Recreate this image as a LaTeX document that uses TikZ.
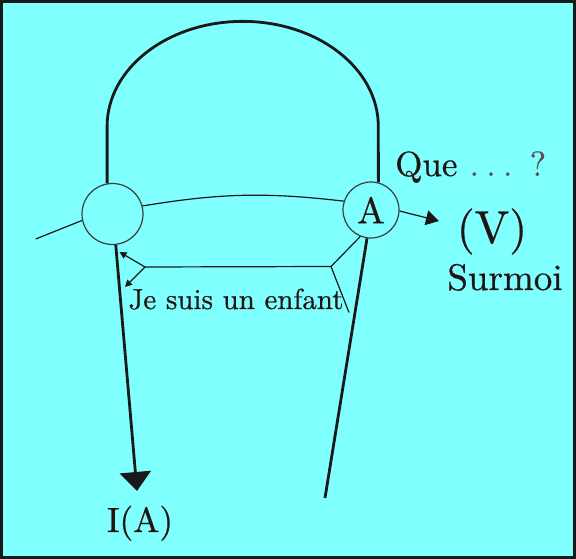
\documentclass[tikz,border=0pt]{standalone}
\usepackage{fontspec}
\setmainfont{lmroman10-regular.otf}[FakeBold=0.6]
\usetikzlibrary{arrows.meta}
\definecolor{bg}{RGB}{128,255,255}
\definecolor{ink}{RGB}{25,25,25}
\definecolor{txt}{RGB}{35,20,20}
\definecolor{dotgray}{RGB}{90,80,80}
\begin{document}
\begin{tikzpicture}[x=1pt,y=1pt,
  thickln/.style={draw=ink,line width=2.8pt},
  thinln/.style={draw=ink,line width=1.2pt},
  circ/.style={circle,draw=ink!85,line width=1.2pt,inner sep=0pt},
  lbl/.style={text=txt,inner sep=0pt},
  bigtri/.style={-{Triangle[length=19pt,width=31pt]}},
  midtri/.style={-{Triangle[length=13pt,width=15pt]}},
  smalltri/.style={-{Triangle[length=7pt,width=7pt]}}]
\useasboundingbox (0,0) rectangle (576,-559);
\fill[bg] (0,0) rectangle (576,-559);
\draw[ink,line width=3pt] (1.5,-1.5) rectangle (574.5,-557.5);
\node[circ,minimum size=61pt] (L) at (112.5,-214) {};
\node[circ,minimum size=56pt,text=txt] (A) at (371,-210) {\fontsize{37}{37}\selectfont A};
\coordinate (tail) at (35.7,-239);
\coordinate (rbot) at (325,-498);
\coordinate (ltip) at (137,-491);
\coordinate (J) at (331,-266.5);
\coordinate (K) at (145,-267);
\coordinate (up) at (119.5,-252);
\coordinate (dn) at (125,-287);
\coordinate (jend) at (349,-312.5);
\coordinate (vtip) at (439,-221);
\draw[thickln] (L.100) -- ++(0,57) arc[start angle=180,end angle=0,x radius=135.6pt,y radius=105pt] -- (A.75);
\draw[thinln] (L.15) to[bend left=8] (A.162);
\draw[thinln] (L.192) -- (tail);
\draw[thickln,bigtri] (L.276) -- (ltip);
\draw[thickln] (A.262) -- (rbot);
\draw[thinln] (A.248) -- (J) -- (K);
\draw[thinln,smalltri] (K) -- (up);
\draw[thinln,smalltri] (K) -- (dn);
\draw[thinln] (J) -- (jend);
\draw[thinln,midtri] (A.358) -- (vtip);
\node[lbl,anchor=base] (je) at (236,-309) {\fontsize{29}{30}\selectfont Je suis un enfant};
\node[lbl,anchor=base west] (que) at (395,-176) {\fontsize{35}{35}\selectfont Que\hspace{12pt}\textcolor{dotgray}{.\hspace{7pt}.\hspace{7pt}.\hspace{17pt}?}};
\node[lbl,anchor=base] (V) at (492,-243) {\fontsize{46}{46}\selectfont (V)};
\node[lbl,anchor=base] (S) at (505,-290) {\fontsize{37}{37}\selectfont Surmoi};
\node[lbl,anchor=base] (IA) at (140,-532) {\fontsize{35}{35}\selectfont I(A)};
\end{tikzpicture}
\end{document}
